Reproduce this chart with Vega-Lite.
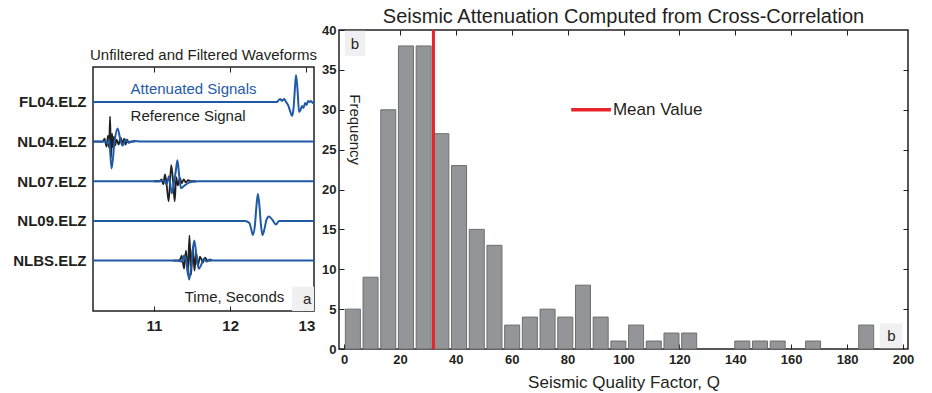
{
  "$schema": "https://vega.github.io/schema/vega-lite/v6.json",
  "background": "white",
  "padding": {"left": 11, "top": 6, "right": 5, "bottom": 2},
  "spacing": 1,
  "config": {
    "font": "Liberation Sans",
    "view": {"stroke": "#231f20", "strokeWidth": 1.5},
    "axis": {"labelColor": "#231f20", "tickColor": "#231f20", "grid": false, "domain": false, "labelFont": "Liberation Sans", "titleFont": "Liberation Sans", "titleFontWeight": "normal", "titleColor": "#231f20", "labelFlush": false, "labelOverlap": false, "tickWidth": 1},
    "title": {"font": "Liberation Sans", "fontWeight": "normal", "color": "#231f20"},
    "text": {"font": "Liberation Sans", "color": "#231f20"}
  },
  "datasets": {
    "black": [
      {"s": "NL04", "t": 10.2, "y": 4}, {"s": "NL04", "t": 10.312, "y": 4}, {"s": "NL04", "t": 10.332, "y": 4}, {"s": "NL04", "t": 10.351, "y": 4.076}, {"s": "NL04", "t": 10.378, "y": 3.874}, {"s": "NL04", "t": 10.397, "y": 4.151}, {"s": "NL04", "t": 10.411, "y": 3.849}, {"s": "NL04", "t": 10.424, "y": 4.63}, {"s": "NL04", "t": 10.437, "y": 3.597}, {"s": "NL04", "t": 10.45, "y": 4.202}, {"s": "NL04", "t": 10.463, "y": 3.849}, {"s": "NL04", "t": 10.476, "y": 4.126}, {"s": "NL04", "t": 10.489, "y": 3.899}, {"s": "NL04", "t": 10.509, "y": 4.05}, {"s": "NL04", "t": 10.536, "y": 3.924}, {"s": "NL04", "t": 10.562, "y": 4.101}, {"s": "NL04", "t": 10.588, "y": 3.95}, {"s": "NL04", "t": 10.608, "y": 4.076}, {"s": "NL04", "t": 10.628, "y": 3.924}, {"s": "NL04", "t": 10.647, "y": 4.05}, {"s": "NL04", "t": 10.667, "y": 3.975}, {"s": "NL04", "t": 10.687, "y": 4}, {"s": "NL04", "t": 10.75, "y": 4},
      {"s": "NL07", "t": 11.0, "y": 3}, {"s": "NL07", "t": 11.075, "y": 3}, {"s": "NL07", "t": 11.101, "y": 3.05}, {"s": "NL07", "t": 11.121, "y": 2.924}, {"s": "NL07", "t": 11.145, "y": 3.176}, {"s": "NL07", "t": 11.167, "y": 2.899}, {"s": "NL07", "t": 11.193, "y": 2.496}, {"s": "NL07", "t": 11.226, "y": 3.403}, {"s": "NL07", "t": 11.253, "y": 2.95}, {"s": "NL07", "t": 11.272, "y": 2.496}, {"s": "NL07", "t": 11.292, "y": 3.101}, {"s": "NL07", "t": 11.312, "y": 2.899}, {"s": "NL07", "t": 11.342, "y": 3.076}, {"s": "NL07", "t": 11.364, "y": 2.95}, {"s": "NL07", "t": 11.391, "y": 3.05}, {"s": "NL07", "t": 11.417, "y": 2.975}, {"s": "NL07", "t": 11.45, "y": 3.025}, {"s": "NL07", "t": 11.483, "y": 3}, {"s": "NL07", "t": 11.55, "y": 3},
      {"s": "NLBS", "t": 11.25, "y": 1}, {"s": "NLBS", "t": 11.312, "y": 1}, {"s": "NLBS", "t": 11.342, "y": 1.025}, {"s": "NLBS", "t": 11.364, "y": 1.126}, {"s": "NLBS", "t": 11.395, "y": 0.798}, {"s": "NLBS", "t": 11.421, "y": 1.252}, {"s": "NLBS", "t": 11.443, "y": 0.647}, {"s": "NLBS", "t": 11.466, "y": 1.63}, {"s": "NLBS", "t": 11.487, "y": 0.647}, {"s": "NLBS", "t": 11.509, "y": 1.353}, {"s": "NLBS", "t": 11.532, "y": 0.748}, {"s": "NLBS", "t": 11.553, "y": 1.202}, {"s": "NLBS", "t": 11.575, "y": 0.874}, {"s": "NLBS", "t": 11.605, "y": 1.101}, {"s": "NLBS", "t": 11.641, "y": 0.95}, {"s": "NLBS", "t": 11.671, "y": 1.076}, {"s": "NLBS", "t": 11.703, "y": 1}, {"s": "NLBS", "t": 11.76, "y": 1}
    ],
    "blue": [
      {"s": "FL04", "t": 10.2, "y": 5}, {"s": "FL04", "t": 12.549, "y": 5}, {"s": "FL04", "t": 12.615, "y": 5}, {"s": "FL04", "t": 12.628, "y": 5.025}, {"s": "FL04", "t": 12.654, "y": 5.076}, {"s": "FL04", "t": 12.68, "y": 5.025}, {"s": "FL04", "t": 12.707, "y": 5.076}, {"s": "FL04", "t": 12.733, "y": 5}, {"s": "FL04", "t": 12.759, "y": 4.924}, {"s": "FL04", "t": 12.786, "y": 4.773}, {"s": "FL04", "t": 12.812, "y": 4.647}, {"s": "FL04", "t": 12.832, "y": 4.849}, {"s": "FL04", "t": 12.845, "y": 5.202}, {"s": "FL04", "t": 12.864, "y": 5.68}, {"s": "FL04", "t": 12.884, "y": 5.302}, {"s": "FL04", "t": 12.904, "y": 4.748}, {"s": "FL04", "t": 12.924, "y": 4.798}, {"s": "FL04", "t": 12.943, "y": 4.899}, {"s": "FL04", "t": 12.963, "y": 4.849}, {"s": "FL04", "t": 12.983, "y": 4.975}, {"s": "FL04", "t": 13.003, "y": 4.924}, {"s": "FL04", "t": 13.022, "y": 5.025}, {"s": "FL04", "t": 13.042, "y": 5}, {"s": "FL04", "t": 13.062, "y": 5.025}, {"s": "FL04", "t": 13.082, "y": 4.975}, {"s": "FL04", "t": 13.1, "y": 5},
      {"s": "NL04", "t": 10.2, "y": 4}, {"s": "NL04", "t": 10.312, "y": 4}, {"s": "NL04", "t": 10.365, "y": 4}, {"s": "NL04", "t": 10.391, "y": 3.95}, {"s": "NL04", "t": 10.411, "y": 4.05}, {"s": "NL04", "t": 10.444, "y": 3.32}, {"s": "NL04", "t": 10.483, "y": 4}, {"s": "NL04", "t": 10.522, "y": 4.327}, {"s": "NL04", "t": 10.562, "y": 4.025}, {"s": "NL04", "t": 10.588, "y": 3.899}, {"s": "NL04", "t": 10.628, "y": 4.05}, {"s": "NL04", "t": 10.667, "y": 3.975}, {"s": "NL04", "t": 10.733, "y": 4.013}, {"s": "NL04", "t": 10.838, "y": 4}, {"s": "NL04", "t": 13.1, "y": 4},
      {"s": "NL07", "t": 10.2, "y": 3}, {"s": "NL07", "t": 11.075, "y": 3}, {"s": "NL07", "t": 11.124, "y": 3.025}, {"s": "NL07", "t": 11.167, "y": 2.924}, {"s": "NL07", "t": 11.197, "y": 3.126}, {"s": "NL07", "t": 11.233, "y": 2.698}, {"s": "NL07", "t": 11.259, "y": 2.924}, {"s": "NL07", "t": 11.286, "y": 3.252}, {"s": "NL07", "t": 11.308, "y": 3.529}, {"s": "NL07", "t": 11.332, "y": 3.126}, {"s": "NL07", "t": 11.355, "y": 2.824}, {"s": "NL07", "t": 11.391, "y": 2.874}, {"s": "NL07", "t": 11.443, "y": 2.95}, {"s": "NL07", "t": 11.496, "y": 2.987}, {"s": "NL07", "t": 11.588, "y": 3}, {"s": "NL07", "t": 13.1, "y": 3},
      {"s": "NL09", "t": 10.2, "y": 2}, {"s": "NL09", "t": 12.193, "y": 2}, {"s": "NL09", "t": 12.253, "y": 1.95}, {"s": "NL09", "t": 12.279, "y": 1.773}, {"s": "NL09", "t": 12.299, "y": 1.647}, {"s": "NL09", "t": 12.325, "y": 1.899}, {"s": "NL09", "t": 12.345, "y": 2.378}, {"s": "NL09", "t": 12.364, "y": 2.68}, {"s": "NL09", "t": 12.384, "y": 2.378}, {"s": "NL09", "t": 12.404, "y": 1.899}, {"s": "NL09", "t": 12.424, "y": 1.647}, {"s": "NL09", "t": 12.45, "y": 1.798}, {"s": "NL09", "t": 12.476, "y": 2.025}, {"s": "NL09", "t": 12.509, "y": 2.111}, {"s": "NL09", "t": 12.555, "y": 2.025}, {"s": "NL09", "t": 12.601, "y": 1.912}, {"s": "NL09", "t": 12.641, "y": 2}, {"s": "NL09", "t": 13.1, "y": 2},
      {"s": "NLBS", "t": 10.2, "y": 1}, {"s": "NLBS", "t": 11.312, "y": 1}, {"s": "NLBS", "t": 11.364, "y": 0.975}, {"s": "NLBS", "t": 11.397, "y": 1.126}, {"s": "NLBS", "t": 11.43, "y": 0.95}, {"s": "NLBS", "t": 11.463, "y": 0.521}, {"s": "NLBS", "t": 11.496, "y": 1}, {"s": "NLBS", "t": 11.529, "y": 1.504}, {"s": "NLBS", "t": 11.562, "y": 1.05}, {"s": "NLBS", "t": 11.588, "y": 0.798}, {"s": "NLBS", "t": 11.621, "y": 0.899}, {"s": "NLBS", "t": 11.654, "y": 1.05}, {"s": "NLBS", "t": 11.693, "y": 0.975}, {"s": "NLBS", "t": 11.733, "y": 1.025}, {"s": "NLBS", "t": 11.786, "y": 1}, {"s": "NLBS", "t": 11.838, "y": 1}, {"s": "NLBS", "t": 13.1, "y": 1}
    ],
    "hist": [
      {"q": 3.167, "n": 5}, {"q": 9.5, "n": 9}, {"q": 15.833, "n": 30}, {"q": 22.167, "n": 38}, {"q": 28.5, "n": 38}, {"q": 34.833, "n": 27}, {"q": 41.167, "n": 23}, {"q": 47.5, "n": 15}, {"q": 53.833, "n": 13}, {"q": 60.167, "n": 3}, {"q": 66.5, "n": 4}, {"q": 72.833, "n": 5}, {"q": 79.167, "n": 4}, {"q": 85.5, "n": 8}, {"q": 91.833, "n": 4}, {"q": 98.167, "n": 1}, {"q": 104.5, "n": 3}, {"q": 110.833, "n": 1}, {"q": 117.167, "n": 2}, {"q": 123.5, "n": 2}, {"q": 142.5, "n": 1}, {"q": 148.833, "n": 1}, {"q": 155.167, "n": 1}, {"q": 167.833, "n": 1}, {"q": 186.833, "n": 3}
    ]
  },
  "hconcat": [
    {
      "spacing": 0,
      "vconcat": [
        {
          "width": 221,
          "height": 16,
          "view": {"stroke": null},
          "data": {"values": [{}]},
          "mark": {"type": "point", "opacity": 0}
        },
        {
          "width": 221,
          "height": 244,
          "title": {"text": "Unfiltered and Filtered Waveforms", "fontSize": 15, "offset": 4, "anchor": "middle"},
          "layer": [
            {
              "data": {"name": "black"},
              "mark": {"type": "line", "color": "#231f20", "strokeWidth": 1.8, "interpolate": "monotone"},
              "encoding": {
                "x": {"field": "t", "type": "quantitative", "scale": {"domain": [10.2, 13.1], "nice": false, "zero": false}, "axis": {"orient": "bottom", "values": [11, 12, 13], "tickSize": -5, "labelFontWeight": "bold", "labelFontSize": 15, "labelPadding": 12, "title": null}},
                "y": {"field": "y", "type": "quantitative", "scale": {"domain": [-0.27, 5.88], "nice": false, "zero": false}, "axis": {"values": [1, 2, 3, 4, 5], "labelExpr": "datum.value == 5 ? 'FL04.ELZ' : datum.value == 4 ? 'NL04.ELZ' : datum.value == 3 ? 'NL07.ELZ' : datum.value == 2 ? 'NL09.ELZ' : 'NLBS.ELZ'", "ticks": false, "labelFontWeight": "bold", "labelFontSize": 15, "labelPadding": 7, "title": null}},
                "detail": {"field": "s"}
              }
            },
            {
              "data": {"name": "blue"},
              "mark": {"type": "line", "color": "#1f5aa6", "strokeWidth": 2, "interpolate": "monotone"},
              "encoding": {
                "x": {"field": "t", "type": "quantitative", "axis": {"orient": "top", "values": [11, 12, 13], "tickSize": -5, "labels": false, "title": null}},
                "y": {"field": "y", "type": "quantitative", "title": null},
                "detail": {"field": "s"}
              }
            },
            {
              "data": {"values": [{"t0": 12.812, "t1": 13.1, "y0": -0.27, "y1": 0.345}]},
              "mark": {"type": "rect", "fill": "#f0f0f2"},
              "encoding": {
                "x": {"field": "t0", "type": "quantitative", "axis": null},
                "x2": {"field": "t1"},
                "y": {"field": "y0", "type": "quantitative", "title": null},
                "y2": {"field": "y1"}
              }
            },
            {
              "data": {"values": [{"t": 10.693, "y": 5.327, "label": "Attenuated Signals"}]},
              "mark": {"type": "text", "align": "left", "baseline": "middle", "fontSize": 15, "color": "#1f5aa6"},
              "encoding": {"x": {"field": "t", "type": "quantitative", "axis": null}, "y": {"field": "y", "type": "quantitative", "title": null}, "text": {"field": "label"}}
            },
            {
              "data": {"values": [{"t": 10.693, "y": 4.64, "label": "Reference Signal"}, {"t": 11.404, "y": 0.086, "label": "Time, Seconds"}, {"t": 12.956, "y": 0.04, "label": "a"}]},
              "mark": {"type": "text", "align": "left", "baseline": "middle", "fontSize": 15, "color": "#231f20"},
              "encoding": {"x": {"field": "t", "type": "quantitative", "axis": null}, "y": {"field": "y", "type": "quantitative", "title": null}, "text": {"field": "label"}, "align": {"condition": {"test": "datum.label != 'Reference Signal'", "value": "center"}, "value": "left"}}
            }
          ],
          "resolve": {"axis": {"x": "independent"}}
        }
      ]
    },
    {
      "width": 569,
      "height": 319,
      "title": {"text": "Seismic Attenuation Computed from Cross-Correlation", "fontSize": 20, "offset": -3, "anchor": "middle"},
      "layer": [
        {
          "data": {"name": "hist"},
          "mark": {"type": "bar", "width": 15, "fill": "#939598", "stroke": "#6d6e71", "strokeWidth": 1},
          "encoding": {
            "x": {"field": "q", "type": "quantitative", "scale": {"domain": [0, 200], "nice": false}, "axis": {"orient": "bottom", "values": [0, 20, 40, 60, 80, 100, 120, 140, 160, 180, 200], "tickSize": -5, "labelFontWeight": "bold", "labelFontSize": 13, "labelPadding": 9, "title": "Seismic Quality Factor, Q", "titleFontSize": 17, "titlePadding": 8}},
            "y": {"field": "n", "type": "quantitative", "scale": {"domain": [0, 40], "nice": false}, "axis": {"orient": "left", "values": [0, 5, 10, 15, 20, 25, 30, 35, 40], "tickSize": -5, "labelFontWeight": "bold", "labelFontSize": 13, "labelPadding": 8, "title": null}}
          }
        },
        {
          "data": {"values": [{"x0": 0.3, "x1": 7.6, "y0": 36.75, "y1": 39.9}, {"x0": 191.7, "x1": 199.8, "y0": 0.1, "y1": 3.2}]},
          "mark": {"type": "rect", "fill": "#f0f0f2"},
          "encoding": {
            "x": {"field": "x0", "type": "quantitative", "axis": null},
            "x2": {"field": "x1"},
            "y": {"field": "y0", "type": "quantitative", "axis": null},
            "y2": {"field": "y1"}
          }
        },
        {
          "data": {"values": [{"q": 3.9, "n": 38.3, "label": "b"}, {"q": 195.9, "n": 1.6, "label": "b"}]},
          "mark": {"type": "text", "align": "center", "baseline": "middle", "fontSize": 15},
          "encoding": {"x": {"field": "q", "type": "quantitative", "axis": null}, "y": {"field": "n", "type": "quantitative", "axis": null}, "text": {"field": "label"}}
        },
        {
          "data": {"values": [{"q": 3.8, "n": 27.5, "label": "Frequency"}]},
          "mark": {"type": "text", "align": "center", "baseline": "middle", "fontSize": 15, "angle": 90},
          "encoding": {"x": {"field": "q", "type": "quantitative", "axis": null}, "y": {"field": "n", "type": "quantitative", "axis": null}, "text": {"field": "label"}}
        },
        {
          "data": {"values": [{"q": 32}]},
          "mark": {"type": "rule", "color": "#e8242b", "strokeWidth": 3},
          "encoding": {"x": {"field": "q", "type": "quantitative", "axis": null}}
        },
        {
          "data": {"values": [{"q": 81.3, "q2": 95.5, "n": 30}]},
          "mark": {"type": "rule", "color": "#e8242b", "strokeWidth": 3.5},
          "encoding": {
            "x": {"field": "q", "type": "quantitative", "axis": {"orient": "top", "values": [20, 40, 60, 80, 100, 120, 140, 160, 180], "tickSize": -5, "labels": false, "title": null}},
            "x2": {"field": "q2"},
            "y": {"field": "n", "type": "quantitative", "axis": {"orient": "right", "values": [5, 10, 15, 20, 25, 30, 35], "tickSize": -5, "labels": false, "title": null}}
          }
        },
        {
          "data": {"values": [{"q": 96.2, "n": 30, "label": "Mean Value"}]},
          "mark": {"type": "text", "align": "left", "baseline": "middle", "fontSize": 17},
          "encoding": {"x": {"field": "q", "type": "quantitative", "axis": null}, "y": {"field": "n", "type": "quantitative", "axis": null}, "text": {"field": "label"}}
        }
      ],
      "resolve": {"axis": {"x": "independent", "y": "independent"}}
    }
  ]
}
